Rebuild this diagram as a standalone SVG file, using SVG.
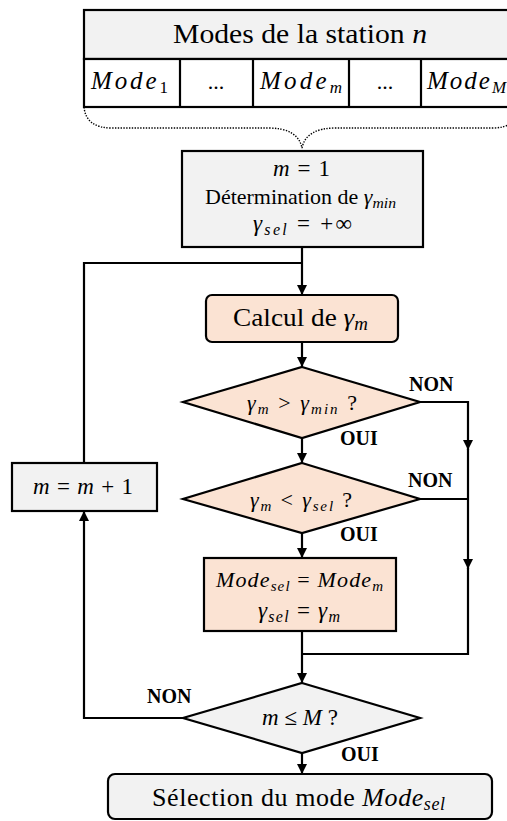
<svg xmlns="http://www.w3.org/2000/svg" width="507" height="821" viewBox="0 0 507 821">
<defs>
<style>
.box{stroke:#000;stroke-width:2.2}
.gray{fill:#f2f2f2}
.peach{fill:#fbe3d3}
.white{fill:#fff}
.t{font-family:"Liberation Serif","Times New Roman",Times,serif;fill:#000}
.m{font-family:"Liberation Serif","Times New Roman",Times,serif;font-style:italic;fill:#000}
.n{font-style:normal}
.lbl{font-family:"Liberation Serif","Times New Roman",Times,serif;font-weight:bold;font-size:20px;fill:#000}
.c{fill:none;stroke:#000;stroke-width:2.2}
</style>
<marker id="ah" viewBox="0 0 10 10" refX="10" refY="5" markerWidth="10" markerHeight="10" markerUnits="userSpaceOnUse" orient="auto">
<path d="M0,0 L10,5 L0,10 z" fill="#000"/>
</marker>
</defs>

<g id="modes-table">
<rect x="84" y="10" width="440" height="49" class="box gray"/>
<rect x="84" y="59" width="440" height="48" class="box white"/>
<line x1="180" y1="59" x2="180" y2="107" class="c"/>
<line x1="253" y1="59" x2="253" y2="107" class="c"/>
<line x1="349" y1="59" x2="349" y2="107" class="c"/>
<line x1="421" y1="59" x2="421" y2="107" class="c"/>
<text x="300" y="43" class="t" font-size="28" text-anchor="middle" textLength="254" lengthAdjust="spacingAndGlyphs">Modes de la station <tspan class="m">n</tspan></text>
<text x="91" y="89" class="m" font-size="25" textLength="77" lengthAdjust="spacing">Mode<tspan class="n" font-size="17" dy="4">1</tspan></text>
<text x="216" y="89" class="t" font-size="22" text-anchor="middle">...</text>
<text x="260" y="89" class="m" font-size="25" textLength="82" lengthAdjust="spacing">Mode<tspan font-size="17" dy="4">m</tspan></text>
<text x="385" y="89" class="t" font-size="22" text-anchor="middle">...</text>
<text x="427" y="89" class="m" font-size="25" letter-spacing="2">Mode<tspan font-size="17" dy="4">M</tspan></text>
<path d="M84,107 Q86,128 112,128 L268,128 Q298,128 302,148 Q306,128 336,128 L492,128 Q518,128 520,107" fill="none" stroke="#000" stroke-width="1.4" stroke-dasharray="1.4 1.4"/>
</g>

<g id="init">
<rect x="182" y="151" width="241" height="96" class="box gray"/>
<text x="273" y="176" class="m" font-size="23" textLength="57" lengthAdjust="spacing">m<tspan class="n"> = 1</tspan></text>
<text x="205" y="204" class="t" font-size="21" textLength="191" lengthAdjust="spacingAndGlyphs">Détermination de <tspan class="m">γ</tspan><tspan class="m" font-size="15" dy="4">min</tspan></text>
<text x="253" y="231" class="m" font-size="23" textLength="99" lengthAdjust="spacing">γ<tspan font-size="16" dy="4">sel</tspan><tspan class="n" dy="-4"> =  +∞</tspan></text>
</g>

<g id="calcul">
<rect x="206" y="295" width="192" height="47" rx="6" class="box peach"/>
<text x="233" y="326" class="t" font-size="26" textLength="135" lengthAdjust="spacingAndGlyphs">Calcul de <tspan class="m">γ</tspan><tspan class="m" font-size="18" dy="4">m</tspan></text>
</g>

<g id="test-min">
<polygon points="302,367 420,402 302,438 183,402" class="box peach"/>
<text x="247" y="410" class="m" font-size="22" textLength="110" lengthAdjust="spacing">γ<tspan font-size="15" dy="4">m</tspan><tspan class="n" dy="-4">  &gt; </tspan>γ<tspan font-size="15" dy="4">min</tspan><tspan class="n" dy="-4"> ?</tspan></text>
</g>

<g id="test-sel">
<polygon points="302,463 420,499 302,533 183,499" class="box peach"/>
<text x="250" y="507" class="m" font-size="22" textLength="102" lengthAdjust="spacing">γ<tspan font-size="15" dy="4">m</tspan><tspan class="n" dy="-4">  &lt; </tspan>γ<tspan font-size="15" dy="4">sel</tspan><tspan class="n" dy="-4"> ?</tspan></text>
</g>

<g id="increment">
<rect x="12" y="463" width="145" height="48" class="box gray"/>
<text x="33" y="494" class="m" font-size="23" textLength="100" lengthAdjust="spacing">m<tspan class="n"> = </tspan>m<tspan class="n"> + 1</tspan></text>
</g>

<g id="update">
<rect x="204" y="558" width="192" height="73" class="box peach"/>
<text x="216" y="587" class="m" font-size="22" textLength="167" lengthAdjust="spacing">Mode<tspan font-size="15" dy="4">sel</tspan><tspan class="n" dy="-4"> = </tspan>Mode<tspan font-size="15" dy="4">m</tspan></text>
<text x="258" y="618" class="m" font-size="23" textLength="82" lengthAdjust="spacing">γ<tspan font-size="16" dy="4">sel</tspan><tspan class="n" dy="-4"> = </tspan>γ<tspan font-size="16" dy="4">m</tspan></text>
</g>

<g id="test-M">
<polygon points="302,683 420,718 302,753 183,718" class="box gray"/>
<text x="262" y="725" class="m" font-size="23" textLength="76" lengthAdjust="spacing">m<tspan class="n"> ≤ </tspan>M<tspan class="n"> ?</tspan></text>
</g>

<g id="result">
<rect x="108" y="774" width="384" height="45" rx="7" class="box gray"/>
<text x="152" y="806" class="t" font-size="26" textLength="293" lengthAdjust="spacing">Sélection du mode <tspan class="m">Mode</tspan><tspan class="m" font-size="18" dy="4">sel</tspan></text>
</g>

<g id="labels">
<text x="409" y="391" class="lbl">NON</text>
<text x="340" y="445" class="lbl">OUI</text>
<text x="408" y="487" class="lbl">NON</text>
<text x="340" y="541" class="lbl">OUI</text>
<text x="147" y="703" class="lbl">NON</text>
<text x="341" y="761" class="lbl">OUI</text>
</g>

<g id="connectors">
<path d="M302,247 V295" class="c" marker-end="url(#ah)"/>
<path d="M84,463 V263 H302" class="c"/>
<path d="M302,342 V367" class="c" marker-end="url(#ah)"/>
<path d="M302,438 V463" class="c" marker-end="url(#ah)"/>
<path d="M420,402 H468 V450" class="c" marker-end="url(#ah)"/>
<path d="M468,449 V569" class="c" marker-end="url(#ah)"/>
<path d="M468,568 V654 H302" class="c"/>
<path d="M420,499 H468" class="c"/>
<path d="M302,533 V558" class="c" marker-end="url(#ah)"/>
<path d="M302,631 V683" class="c" marker-end="url(#ah)"/>
<path d="M183,718 H84 V511" class="c" marker-end="url(#ah)"/>
<path d="M302,753 V774" class="c" marker-end="url(#ah)"/>
</g>
</svg>
